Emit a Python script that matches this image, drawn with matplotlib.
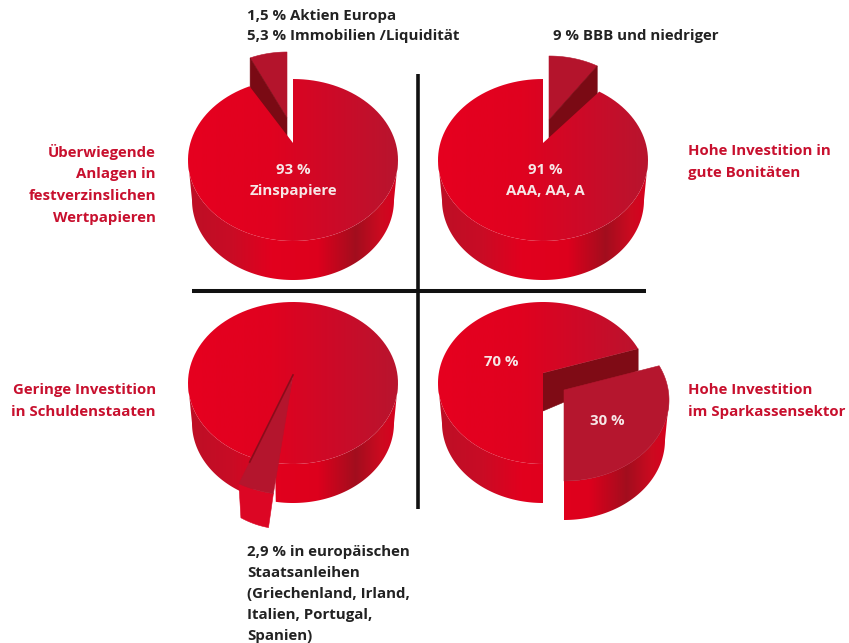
import numpy as np
import matplotlib
matplotlib.use("Agg")
import matplotlib.pyplot as plt
from matplotlib.colors import LinearSegmentedColormap
from matplotlib.patches import Polygon

# share of the pulled out piece, per pie
slice_shares = [6.8, 9.0, 2.9, 30.0]
pie_labels = [["93 %", "Zinspapiere"], ["91 %", "AAA, AA, A"], [], ["70 %"]]
slice_labels = [[], [], [], ["30 %"]]
top_notes = [["1,5 % Aktien Europa", "5,3 % Immobilien /Liquidität"],
             ["9 % BBB und niedriger"]]
bottom_note = ["2,9 % in europäischen", "Staatsanleihen", "(Griechenland, Irland,",
               "Italien, Portugal,", "Spanien)"]
left_notes = [["Überwiegende", "Anlagen in", "festverzinslichen", "Wertpapieren"],
              ["Geringe Investition", "in Schuldenstaaten"]]
right_notes = [["Hohe Investition in", "gute Bonitäten"],
               ["Hohe Investition", "im Sparkassensektor"]]

RED = "#c8102e"
TEXT = "#222222"
FONT = "Open Sans"

top_cmap = LinearSegmentedColormap.from_list(
    "top", [(0, "#e6001f"), (0.4, "#e0021f"), (0.7, "#cc0a28"), (1, "#b8152e")])
side_cmap = LinearSegmentedColormap.from_list(
    "side",
    [(0, "#bd0f26"), (0.2, "#c80c25"), (0.4, "#e2001e"), (0.62, "#dd001c"),
     (0.8, "#a20e1e"), (0.92, "#cc0a20"), (1, "#d8001e")])

fig = plt.figure(figsize=(8.49, 6.43), dpi=100)
ax = fig.add_axes([0, 0, 1, 1])
ax.axis("off")


def rim(cx, cy, rx, ry, a0, a1):
    a = np.radians(np.linspace(a0, a1, 120))
    return np.column_stack([cx + rx * np.cos(a), cy - ry * np.sin(a)])


def shade(points, cmap, x0, x1, z):
    poly = Polygon(points, closed=True, fc="none", ec="none", zorder=z)
    ax.add_patch(poly)
    im = ax.imshow(np.linspace(0, 1, 256)[None, :], cmap=cmap, extent=(x0, x1, 643, 0),
                   aspect="auto", interpolation="bilinear", zorder=z)
    im.set_clip_path(poly)


def flat(points, color, z):
    ax.add_patch(Polygon(points, closed=True, fc=color, ec=color, lw=0.4, zorder=z))


def side(cx, cy, a0, a1, z, dx=0, dy=0):
    upper = rim(cx + dx, cy + dy, 105, 81, a0, a1)
    lower = rim(cx + dx, cy + dy + 40, 101, 80, a0, a1)
    shade(np.vstack([upper, lower[::-1]]), side_cmap, cx + dx - 105, cx + dx + 105, z)


def main_top(cx, cy, apex_y, a0, a1, z):
    pts = np.vstack([[[cx, apex_y]], rim(cx, cy, 105, 81, a0, a1)])
    shade(pts, top_cmap, cx - 105, cx + 105, z)


# pie 1, upper left, piece pulled out upwards
cx, cy, apex = 293, 160, 143
sweep = slice_shares[0] * 3.6
piece_apex = (287, 118)
piece = rim(piece_apex[0], piece_apex[1], 89, 66, 90, 90 + sweep)
flat(np.vstack([[piece_apex], piece]), "#b4142c", 3)
flat([piece_apex, piece[-1], piece[-1] + [0, 40], (piece_apex[0], piece_apex[1] + 40)], "#7a0a14", 3)
side(cx, cy, 180, 360, 2)
main_top(cx, cy, apex, 90 + sweep, 450, 4)

# pie 2, upper right
cx = 543
sweep = slice_shares[1] * 3.6
piece_apex = (549, 120)
piece = rim(piece_apex[0], piece_apex[1], 90, 64, 90 - sweep, 90)
flat(np.vstack([[piece_apex], piece]), "#b4142c", 3)
flat([piece_apex, piece[0], piece[0] + [0, 40], (piece_apex[0], piece_apex[1] + 40)], "#7a0a14", 3)
side(cx, cy, 180, 360, 2)
main_top(cx, cy, apex, 90, 450 - sweep, 4)

# pie 3, lower left, the thin piece is drawn wider than its share as in the original
cx, cy, apex = 293, 383, 375
sweep = slice_shares[2] * 3.6 * 1.55
start = 245
side(cx, cy, 180, start + 2, 2)
side(cx, cy, start + sweep - 1, 360, 2)
main_top(cx, cy, apex, start + sweep - 1.5, start + 2 + 360, 4)
piece = rim(cx, apex, 128, 120, start, start + sweep)
# front of the piece gets narrower towards the bottom
lower = piece + [0, 34]
lower[:, 0] = piece[0, 0] + 2 + (lower[:, 0] - piece[0, 0]) * 0.8
flat(np.vstack([piece, lower[::-1]]), "#dc0624", 5)
flat(np.vstack([[(cx, apex)], piece]), "#b4152d", 6)
edge = cx + (piece[0, 0] - cx) * 0.8, apex + (piece[0, 1] - apex) * 0.8
ax.plot([cx, edge[0]], [apex, edge[1]], color="#8a0c1a", lw=1.2, zorder=6)

# pie 4, lower right, piece moved down to the right
cx = 543
sweep = slice_shares[3] * 3.6 * 1.065
start = -90
offset = (21, 17)
face = rim(cx, cy, 105, 81, start + sweep, start + sweep)[0]
flat([(cx, apex - 2), face, face + [0, 22], (cx, apex + 36)], "#7f0b15", 2)
side(cx, cy, 180, 270, 2)
main_top(cx, cy, apex - 2, start + sweep, 270, 4)
side(cx, cy, start, min(start + sweep, 0), 5, *offset)
piece = rim(cx + offset[0], cy + offset[1], 105, 81, start, start + sweep)
flat(np.vstack([[(cx + offset[0], apex - 2 + offset[1])], piece]), "#b5162e", 6)

# cross in the middle
ax.plot([418.5, 418.5], [74, 509], color="#111111", lw=2.6, solid_capstyle="butt", zorder=7)
ax.plot([192, 646], [291, 291], color="#111111", lw=2.9, solid_capstyle="butt", zorder=7)


def write(x, y, lines, color=TEXT, ha="left", step=21.5):
    for i, line in enumerate(lines):
        ax.text(x, y + i * step, line, color=color, ha=ha, va="center", fontsize=10.8,
                fontweight="bold", family=FONT, zorder=8)


write(247, 16, top_notes[0], step=20)
write(553, 36, top_notes[1])
write(247, 552, bottom_note, step=21)
write(156, 152, left_notes[0], color=RED, ha="right", step=22)
write(156, 390, left_notes[1], color=RED, ha="right", step=22)
write(688, 151, right_notes[0], color=RED, step=22)
write(688, 390, right_notes[1], color=RED, step=22)
write(293, 170, pie_labels[0], color="#f6e6e6", ha="center", step=21)
write(545, 170, pie_labels[1], color="#f6e6e6", ha="center", step=21)
write(501, 362, pie_labels[3], color="#f6e6e6", ha="center")
write(607, 421, slice_labels[3], color="#f6e6e6", ha="center")

ax.set_xlim(0, 849)
ax.set_ylim(643, 0)
fig.savefig("out.png", dpi=100)
